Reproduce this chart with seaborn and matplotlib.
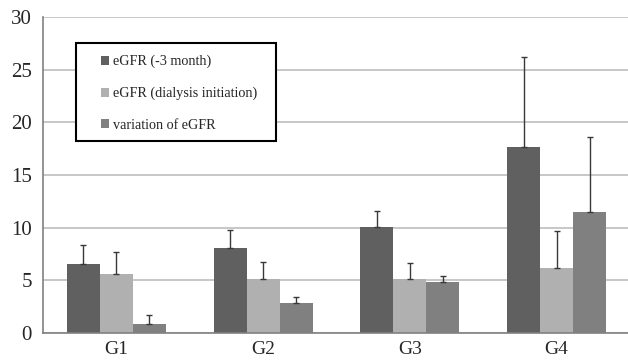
import matplotlib
matplotlib.use("Agg")
import matplotlib.pyplot as plt
import seaborn as sns
import pandas as pd
from matplotlib.patches import Rectangle

groups = ["G1", "G2", "G3", "G4"]
series = ["eGFR (-3 month)", "eGFR (dialysis initiation)", "variation of eGFR"]
egfr_3m = [6.55, 8.05, 10.07, 17.66]
egfr_3m_sd = [1.85, 1.7, 1.55, 8.55]
egfr_init = [5.57, 5.13, 5.13, 6.14]
egfr_init_sd = [2.09, 1.57, 1.47, 3.56]
egfr_var = [0.88, 2.82, 4.87, 11.46]
egfr_var_sd = [0.82, 0.57, 0.54, 7.14]
colors = ["#606060", "#b0b0b0", "#808080"]

values = [egfr_3m, egfr_init, egfr_var]
sds = [egfr_3m_sd, egfr_init_sd, egfr_var_sd]
rows = []
for s, vals, sd in zip(series, values, sds):
    for g, v, e in zip(groups, vals, sd):
        rows.append({"group": g, "series": s, "value": v, "sd": e})
df = pd.DataFrame(rows)

sns.set_style("white")
plt.rcParams["font.family"] = ["Liberation Serif", "DejaVu Serif"]

fig = plt.figure(figsize=(6.28, 3.64), dpi=100)
ax = fig.add_axes([43 / 628, 31 / 364, 587 / 628, 316 / 364])

sns.barplot(data=df, x="group", y="value", hue="series", palette=colors,
            width=0.675, errorbar=None, saturation=1, ax=ax, legend=False,
            edgecolor="none", linewidth=0)

# error bars (upper only) at bar centres
for i, s in enumerate(series):
    sub = df[df["series"] == s]
    bars = ax.containers[i]
    xs = [b.get_x() + b.get_width() / 2 for b in bars]
    ax.errorbar(xs, sub["value"].values,
                yerr=[[0] * len(xs), sub["sd"].values],
                fmt="none", ecolor="#383838", elinewidth=1.0,
                capsize=2.2, capthick=1.0, zorder=3)

ax.set_ylim(0, 30)
ax.set_yticks(range(0, 31, 5))
ax.set_xlim(-0.5, 3.5)
ax.set_xlabel("")
ax.set_ylabel("")
ax.yaxis.grid(True, color="#bdbdbd", linewidth=1.2)
ax.set_axisbelow(True)

# x: tick marks at category boundaries, labels at centres
ax.set_xticks([-0.5, 0.5, 1.5, 2.5, 3.5])
ax.set_xticklabels([])
ax.set_xticks(range(4), minor=True)
ax.set_xticklabels(groups, minor=True)
ax.tick_params(axis="x", which="major", direction="out", length=5, width=1, color="#808080")
ax.tick_params(axis="x", which="minor", length=0, pad=6, labelsize=14)
ax.tick_params(axis="y", direction="out", length=5, width=1, color="#808080",
               labelsize=15, pad=3)

for sp in ["top", "right"]:
    ax.spines[sp].set_visible(False)
for sp in ["left", "bottom"]:
    ax.spines[sp].set_color("#808080")
    ax.spines[sp].set_linewidth(1.2)

# legend box
x0 = (76 - 43) / 587
x1 = (276 - 43) / 587
y1 = (333 - 43) / 316
y0 = (333 - 141) / 316
ax.add_patch(Rectangle((x0, y0), x1 - x0, y1 - y0, transform=ax.transAxes,
                       facecolor="white", edgecolor="black", linewidth=1.5, zorder=5))
handles = [Rectangle((0, 0), 1, 1, facecolor=c, edgecolor="none") for c in colors]
leg = ax.legend(handles, series, loc="upper left",
                bbox_to_anchor=((101 - 43) / 587, (333 - 55) / 316),
                frameon=False, fontsize=10.2, borderpad=0, borderaxespad=0,
                handlelength=0.6, handleheight=0.6, handletextpad=0.25,
                labelspacing=1.3)
leg.set_zorder(6)

fig.savefig("out.png", dpi=100)
